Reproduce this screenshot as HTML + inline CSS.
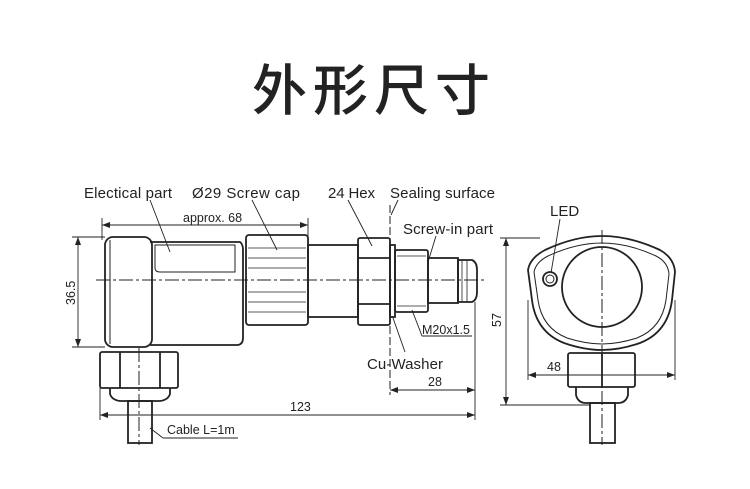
<!DOCTYPE html>
<html><head><meta charset="utf-8"><style>
html,body{margin:0;padding:0;background:#fff;width:750px;height:489px;overflow:hidden}
svg{display:block}
text{font-family:"Liberation Sans","Noto Sans CJK SC",sans-serif;fill:#222}
</style></head><body>
<svg width="750" height="489" viewBox="0 0 750 489" xmlns="http://www.w3.org/2000/svg">
<text x="252" y="110" font-size="55" letter-spacing="6" font-weight="500" style="font-family:'Noto Sans CJK SC',sans-serif" fill="#000">外形尺寸</text>
<defs><marker id="a" markerWidth="8" markerHeight="6" refX="8" refY="3" orient="auto-start-reverse" markerUnits="userSpaceOnUse"><path d="M0,0L8,3L0,6z" fill="#222"/></marker></defs>
<g stroke="#222" fill="none" stroke-width="1.8">
<rect x="105" y="237" width="47" height="110" rx="8"/>
<line x1="110" y1="240" x2="110" y2="344" stroke-width="1"/>
<path d="M150,242 L240,242 Q243,244 243,250 L243,338 Q243,344 238,345 L150,345"/>
<path d="M155,245 L235,245 L235,272 L160,272 Q155,272 155,268z" stroke-width="1"/>
<rect x="246" y="235" width="62" height="90" rx="3"/>
<g stroke-width="0.8"><line x1="248" y1="248" x2="306" y2="248"/><line x1="248" y1="258" x2="306" y2="258"/><line x1="248" y1="268" x2="306" y2="268"/><line x1="248" y1="292" x2="306" y2="292"/><line x1="248" y1="302" x2="306" y2="302"/><line x1="248" y1="312" x2="306" y2="312"/></g>
<rect x="308" y="245" width="50" height="72"/>
<rect x="358" y="238" width="32" height="87" rx="2"/>
<line x1="358" y1="258" x2="390" y2="258"/><line x1="358" y1="304" x2="390" y2="304"/>
<rect x="390" y="245" width="5" height="72"/>
<rect x="395" y="250" width="33" height="62" rx="2"/>
<line x1="397" y1="256" x2="426" y2="256" stroke-width="0.8"/><line x1="397" y1="306" x2="426" y2="306" stroke-width="0.8"/>
<rect x="428" y="258" width="30" height="45"/>
<path d="M458,260 L472,260 Q477,262 477,270 L477,292 Q477,300 472,302 L458,302z"/>
<line x1="462" y1="260" x2="462" y2="302" stroke-width="0.8"/><line x1="467" y1="260" x2="467" y2="302" stroke-width="0.8"/>
<rect x="100" y="352" width="78" height="36" rx="2"/>
<line x1="120" y1="352" x2="120" y2="388"/><line x1="160" y1="352" x2="160" y2="388"/>
<path d="M110,388 L110,394 Q112,400 120,401 L160,401 Q168,400 170,394 L170,388"/>
<rect x="128" y="401" width="24" height="42"/>
<g stroke-width="1" stroke-dasharray="14,3,3,3">
<line x1="96" y1="280" x2="484" y2="280"/><line x1="139" y1="348" x2="139" y2="445"/>
<line x1="602" y1="230" x2="602" y2="445"/>
</g>
<line x1="390" y1="205" x2="390" y2="395" stroke-width="1" stroke-dasharray="8,3"/>
<g stroke-width="0.9">
<line x1="102" y1="218" x2="102" y2="240"/><line x1="308" y1="218" x2="308" y2="236"/>
<line x1="102" y1="225" x2="308" y2="225" marker-start="url(#a)" marker-end="url(#a)"/>
<line x1="72" y1="237" x2="105" y2="237"/><line x1="72" y1="347" x2="105" y2="347"/>
<line x1="78" y1="237" x2="78" y2="347" marker-start="url(#a)" marker-end="url(#a)"/>
<line x1="100" y1="388" x2="100" y2="420"/><line x1="475" y1="302" x2="475" y2="420"/>
<line x1="100" y1="415" x2="475" y2="415" marker-start="url(#a)" marker-end="url(#a)"/>
<line x1="390" y1="390" x2="475" y2="390" marker-start="url(#a)" marker-end="url(#a)"/>
<line x1="500" y1="238" x2="540" y2="238"/><line x1="500" y1="405" x2="590" y2="405"/>
<line x1="506" y1="238" x2="506" y2="405" marker-start="url(#a)" marker-end="url(#a)"/>
<line x1="528" y1="300" x2="528" y2="380"/><line x1="675" y1="300" x2="675" y2="380"/>
<line x1="528" y1="375" x2="675" y2="375" marker-start="url(#a)" marker-end="url(#a)"/>
<line x1="150" y1="200" x2="170" y2="252"/>
<line x1="252" y1="200" x2="277" y2="250"/>
<line x1="348" y1="200" x2="372" y2="246"/>
<line x1="398" y1="200" x2="391" y2="215"/>
<line x1="436" y1="236" x2="428" y2="262"/>
<line x1="412" y1="310" x2="422" y2="336"/><line x1="422" y1="336" x2="472" y2="336"/>
<line x1="393" y1="318" x2="405" y2="352"/>
<line x1="150" y1="428" x2="163" y2="438"/><line x1="163" y1="438" x2="238" y2="438"/>
<line x1="560" y1="219" x2="551" y2="273"/>
</g>
<path d="M528,270 Q530,258 545,250 Q575,236 602,236 Q630,236 660,250 Q674,258 675,272 L672,300 Q668,332 640,343 Q620,350 602,350 Q584,350 564,343 Q536,332 532,300z"/>
<path d="M534,272 Q536,262 548,256 Q576,243 602,243 Q628,243 656,256 Q668,262 669,274 L666,300 Q662,328 637,338 Q618,344 602,344 Q586,344 567,338 Q542,328 538,300z" stroke-width="1"/>
<circle cx="602" cy="287" r="40"/>
<circle cx="550" cy="279" r="7"/><circle cx="550" cy="279" r="4" stroke-width="1"/>
<rect x="568" y="353" width="67" height="34" rx="2"/>
<line x1="602" y1="353" x2="602" y2="387"/>
<path d="M576,387 L576,395 Q578,403 586,403 L618,403 Q626,403 628,395 L628,387"/>
<rect x="590" y="403" width="25" height="40"/>
</g>
<g font-size="15">
<text x="84" y="198" textLength="88">Electical part</text>
<text x="192" y="198" textLength="108">Ø29 Screw cap</text>
<text x="328" y="198" textLength="47">24 Hex</text>
<text x="390" y="198" textLength="105">Sealing surface</text>
<text x="403" y="234" textLength="90">Screw-in part</text>
<text x="367" y="369" textLength="76">Cu-Washer</text>
<text x="550" y="216">LED</text>
</g>
<g font-size="12.5">
<text x="183" y="222">approx. 68</text>
<text x="422" y="334">M20x1.5</text>
<text x="428" y="386">28</text>
<text x="290" y="411">123</text>
<text x="167" y="434">Cable L=1m</text>
<text x="547" y="371">48</text>
<text transform="translate(75,305) rotate(-90)">36.5</text>
<text transform="translate(501,327) rotate(-90)">57</text>
</g>
</svg>
</body></html>
